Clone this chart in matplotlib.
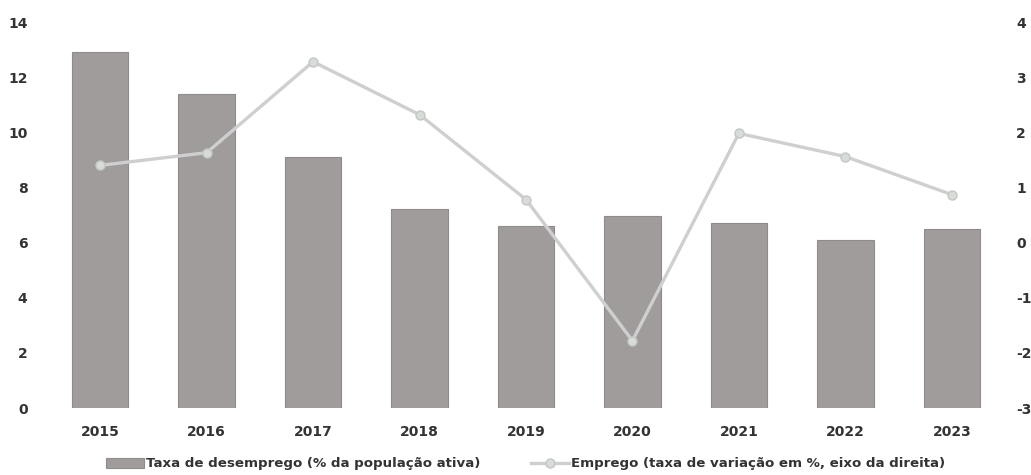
import matplotlib.pyplot as plt
import matplotlib.ticker as mticker
import numpy as np

anos = ['2015', '2016', '2017', '2018', '2019', '2020', '2021', '2022', '2023']
desemprego = [12.9, 11.4, 9.1, 7.2, 6.6, 6.95, 6.7, 6.1, 6.5]
emprego = [1.4, 1.63, 3.28, 2.32, 0.78, -1.78, 1.98, 1.56, 0.87]

cor_txt = '#333333'
plt.rcParams['font.family'] = ['DejaVu Sans']

fig = plt.figure(figsize=(10.31, 4.75), dpi=100)
ax = fig.add_axes([47 / 1031, 1 - 408 / 475, (1005 - 47) / 1031, (408 - 22) / 475])
x = np.arange(len(anos))

ax.bar(x, desemprego, width=0.53, color='#a09c9c', edgecolor='#8f8b8b', linewidth=0.8,
       label='Taxa de desemprego (% da população ativa)', zorder=2)
ax.set_ylim(0, 14)
ax.set_yticks(range(0, 15, 2))
ax.set_xlim(-0.5, len(anos) - 0.5)
ax.set_xticks(x)
ax.set_xticklabels(anos)

ax2 = ax.twinx()
ax2.plot(x, emprego, color='#cfcfcf', linewidth=2.4, marker='o', markersize=6.5,
         markerfacecolor='#d8dcd8', markeredgecolor='#c4c8c4',
         label='Emprego (taxa de variação em %, eixo da direita)', zorder=3)
ax2.set_ylim(-3, 4)
ax2.set_yticks(range(-3, 5))
ax2.yaxis.set_major_formatter(mticker.FuncFormatter(lambda v, p: '%d' % v))

for a in (ax, ax2):
    for s in a.spines.values():
        s.set_visible(False)
    a.tick_params(length=0, labelsize=10, labelcolor=cor_txt)
    for t in a.get_xticklabels() + a.get_yticklabels():
        t.set_fontweight('bold')
ax.tick_params(axis='y', pad=14)
ax.tick_params(axis='x', pad=12)
ax2.tick_params(axis='y', pad=8)

h1, l1 = ax.get_legend_handles_labels()
h2, l2 = ax2.get_legend_handles_labels()
leg = fig.legend(h1 + h2, l1 + l2, loc='center', bbox_to_anchor=(526 / 1031, 1 - 464 / 475),
                 ncol=2, frameon=False, fontsize=9.6, columnspacing=3.8, handlelength=2.8,
                 handletextpad=0.2)
for t in leg.get_texts():
    t.set_fontweight('bold')
    t.set_color(cor_txt)

fig.savefig('out.png', dpi=100)
